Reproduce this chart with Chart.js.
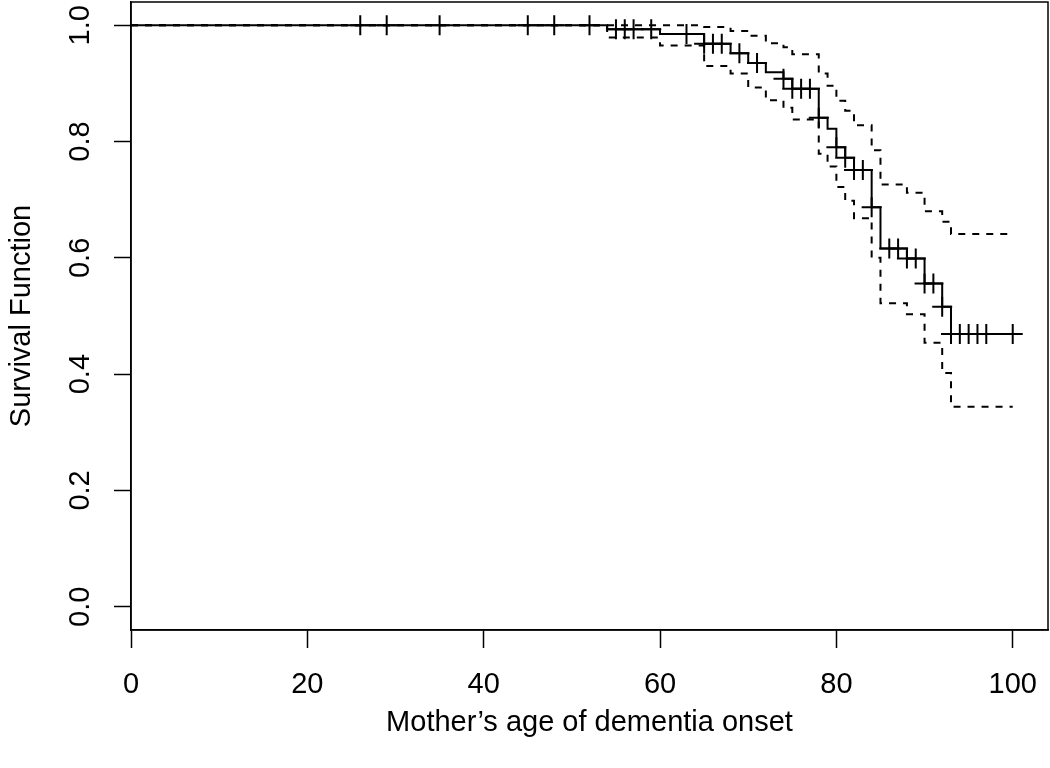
<!DOCTYPE html>
<html>
<head>
<meta charset="utf-8">
<script src="https://cdn.jsdelivr.net/npm/chart.js@4/dist/chart.umd.min.js"></script>
<style>
  html, body { margin: 0; padding: 0; background: #fff; }
  #wrap { width: 1050px; height: 768px; position: relative; }
</style>
</head>
<body>
<div id="wrap"><canvas id="c" width="1050" height="768"></canvas></div>
<script>
// ---- data ----
const eventTimes = [54, 60, 65, 68, 70, 72, 74, 75, 78, 79, 80, 81, 82, 84, 85, 88, 90, 92, 93];
const survival   = [0.993, 0.985, 0.968, 0.952, 0.935, 0.919, 0.908, 0.891, 0.841, 0.822, 0.790, 0.772, 0.751, 0.687, 0.616, 0.599, 0.556, 0.516, 0.469];
const upperCI    = [1.000, 1.000, 0.997, 0.990, 0.982, 0.969, 0.962, 0.950, 0.917, 0.896, 0.870, 0.853, 0.828, 0.785, 0.726, 0.712, 0.680, 0.662, 0.641];
const lowerCI    = [0.979, 0.965, 0.930, 0.917, 0.893, 0.871, 0.858, 0.838, 0.779, 0.757, 0.722, 0.698, 0.668, 0.600, 0.522, 0.503, 0.454, 0.402, 0.344];
const censorTimes = [26, 29, 35, 45, 48, 52, 55, 56, 57, 59, 63, 65, 66, 67, 69, 71, 74, 75, 76, 77, 78, 80, 81, 82, 83, 84, 86, 87, 88, 89, 90, 91, 92, 93, 94, 95, 96, 97, 100];
const startTime = 0;
const endTime = 100;
const xTicks = [0, 20, 40, 60, 80, 100];
const yTicks = [0.0, 0.2, 0.4, 0.6, 0.8, 1.0];
const yTickLabels = ['0.0', '0.2', '0.4', '0.6', '0.8', '1.0'];
const xTitle = 'Mother\u2019s age of dementia onset';
const yTitle = 'Survival Function';

// ---- build step series ----
function stepSeries(values) {
  const pts = [{x: startTime, y: 1}];
  eventTimes.forEach((t, i) => pts.push({x: t, y: values[i]}));
  pts.push({x: endTime, y: values[values.length - 1]});
  return pts;
}
function survAt(t) {
  let s = 1;
  eventTimes.forEach((e, i) => { if (e <= t) s = survival[i]; });
  return s;
}
const censorPts = censorTimes.map(t => ({x: t, y: survAt(t)}));

const FONT = "'Liberation Sans', Arial, Helvetica, sans-serif";
const FSIZE = 29;
const BLACK = '#000';

function zeroPad(s) { s.paddingLeft = 0; s.paddingRight = 0; s.paddingTop = 0; s.paddingBottom = 0; }

const boxAndYLabels = {
  id: 'boxAndYLabels',
  afterDraw(chart) {
    const {ctx, chartArea: a, scales} = chart;
    ctx.save();
    ctx.strokeStyle = BLACK;
    ctx.lineWidth = 1.5;
    ctx.strokeRect(a.left, a.top, a.right - a.left, a.bottom - a.top);
    ctx.fillStyle = BLACK;
    ctx.font = FSIZE + 'px ' + FONT;
    ctx.textAlign = 'center';
    ctx.textBaseline = 'middle';
    yTicks.forEach((v, i) => {
      const y = scales.y.getPixelForValue(v);
      ctx.save();
      ctx.translate(81, y);
      ctx.rotate(-Math.PI / 2);
      ctx.fillText(yTickLabels[i], 0, 0);
      ctx.restore();
    });
    ctx.restore();
  }
};

new Chart(document.getElementById('c'), {
  type: 'line',
  data: {
    datasets: [
      {
        label: 'Survival',
        data: stepSeries(survival),
        stepped: 'before',
        borderColor: BLACK,
        borderWidth: 2,
        pointRadius: 0,
        fill: false
      },
      {
        label: 'Censored',
        type: 'scatter',
        data: censorPts,
        showLine: false,
        pointStyle: 'cross',
        pointRadius: 10,
        pointBorderWidth: 2,
        borderColor: BLACK,
        backgroundColor: BLACK,
        borderWidth: 2
      },
      {
        label: 'Upper 95% CI',
        data: stepSeries(upperCI),
        stepped: 'before',
        borderColor: BLACK,
        borderWidth: 2,
        borderDash: [7, 7],
        pointRadius: 0,
        fill: false
      },
      {
        label: 'Lower 95% CI',
        data: stepSeries(lowerCI),
        stepped: 'before',
        borderColor: BLACK,
        borderWidth: 2,
        borderDash: [7, 7],
        pointRadius: 0,
        fill: false
      }
    ]
  },
  options: {
    responsive: false,
    animation: false,
    events: [],
    layout: { autoPadding: false, padding: { top: 2, right: 2, left: 0, bottom: 0 } },
    plugins: { legend: { display: false }, tooltip: { enabled: false } },
    scales: {
      x: {
        type: 'linear',
        min: 0,
        max: 104,
        afterBuildTicks: s => { s.ticks = xTicks.map(v => ({value: v})); },
        afterFit: s => { s.height = 138; zeroPad(s); },
        grid: { drawOnChartArea: false, drawTicks: true, tickLength: 18, tickColor: BLACK, tickWidth: 1.5 },
        border: { display: true, color: BLACK, width: 1.5 },
        ticks: { color: BLACK, font: { family: FONT, size: FSIZE }, padding: 20, maxRotation: 0, autoSkip: false,
                 callback: v => String(v) },
        title: { display: true, text: xTitle, color: BLACK, font: { family: FONT, size: FSIZE }, padding: { top: 0, bottom: 28 } }
      },
      y: {
        type: 'linear',
        min: -0.04,
        max: 1.04,
        afterBuildTicks: s => { s.ticks = yTicks.map(v => ({value: v})); },
        afterFit: s => { s.width = 131; zeroPad(s); },
        grid: { drawOnChartArea: false, drawTicks: true, tickLength: 17, tickColor: BLACK, tickWidth: 1.5 },
        border: { display: true, color: BLACK, width: 1.5 },
        ticks: { display: false },
        title: { display: true, text: yTitle, color: BLACK, font: { family: FONT, size: FSIZE }, padding: { top: 5, bottom: 0 } }
      }
    }
  },
  plugins: [boxAndYLabels]
});
</script>
</body>
</html>
